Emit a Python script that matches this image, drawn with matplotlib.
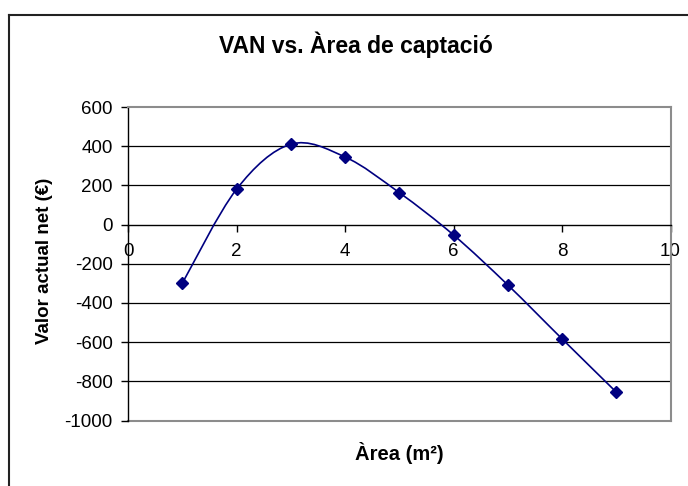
import numpy as np
import matplotlib
matplotlib.use("Agg")
import matplotlib.pyplot as plt
from matplotlib.path import Path
from matplotlib.patches import PathPatch
from matplotlib.lines import Line2D

plt.rcParams['font.family'] = ['Liberation Sans', 'DejaVu Sans']
plt.rcParams['axes.unicode_minus'] = False

# dades: àrea de captació (m2) i valor actual net (EUR)
area = [1, 2, 3, 4, 5, 6, 7, 8, 9]
van = [-300, 180, 410, 345, 163, -53, -308, -583, -855]
yticks = [-1000, -800, -600, -400, -200, 0, 200, 400, 600]
xticks = [0, 2, 4, 6, 8, 10]

navy = '#000080'
gris = '#8c8c8c'


def corba_suau(x, y):
    # corbes de Bezier cubiques entre punts consecutius (linia suavitzada)
    p = np.column_stack([x, y]).astype(float)
    n = len(p)
    verts = [p[0]]
    codes = [Path.MOVETO]
    for i in range(n - 1):
        p0 = p[i - 1] if i > 0 else p[i]
        p3 = p[i + 2] if i + 2 < n else p[i + 1]
        c1 = p[i] + (p[i + 1] - p0) / 6
        c2 = p[i + 1] - (p3 - p[i]) / 6
        verts += [c1, c2, p[i + 1]]
        codes += [Path.CURVE4] * 3
    return Path(verts, codes)


fig = plt.figure(figsize=(6.88, 4.86), dpi=100)
ax = fig.add_axes([128 / 688, 1 - 420.5 / 486, 542.5 / 688, 313.5 / 486])

ax.set_xlim(0, 10)
ax.set_ylim(-1000, 600)

# linies de graella
for v in yticks:
    if v in (0, 600, -1000):
        continue
    ax.axhline(v, color='black', lw=0.9, zorder=1)
ax.axhline(-1000, color=gris, lw=1.5, zorder=1, clip_on=False)

ax.add_patch(PathPatch(corba_suau(area, van), facecolor='none',
                       edgecolor=navy, lw=1.2, zorder=3))
ax.plot(area, van, linestyle='none', marker='D', ms=6, color=navy,
        markeredgecolor=navy, zorder=4)

for s in ('top', 'right'):
    ax.spines[s].set_color(gris)
    ax.spines[s].set_linewidth(1.5)
ax.spines['left'].set_color('black')
ax.spines['left'].set_linewidth(1)
ax.spines['bottom'].set_position(('data', 0))
ax.spines['bottom'].set_color('black')
ax.spines['bottom'].set_linewidth(1)

ax.set_xticks(xticks)
ax.set_yticks(yticks)
ax.tick_params(axis='both', direction='out', length=5, width=1,
               labelsize=13.5, color='black')
ax.tick_params(axis='x', pad=8)
ax.tick_params(axis='y', pad=6)

# titols
fig.text(356 / 688, 1 - 45 / 486, 'VAN vs. Àrea de captació',
         ha='center', va='center', fontsize=16.5, fontweight='bold')
fig.text(399 / 688, 1 - 453 / 486, 'Àrea (m²)',
         ha='center', va='center', fontsize=14.5, fontweight='bold')
fig.text(45 / 688, 1 - 261 / 486, 'Valor actual net (€)', rotation=90,
         ha='center', va='center', fontsize=13.5, fontweight='bold')

# vora de l'area del grafic
x0 = 8.5 / 688
y0 = 1 - 15 / 486
fig.add_artist(Line2D([x0, x0], [0, y0], color='#222222', lw=1.5))
fig.add_artist(Line2D([x0, 1], [y0, y0], color='#222222', lw=1.5))

fig.savefig('out.png', dpi=100)
